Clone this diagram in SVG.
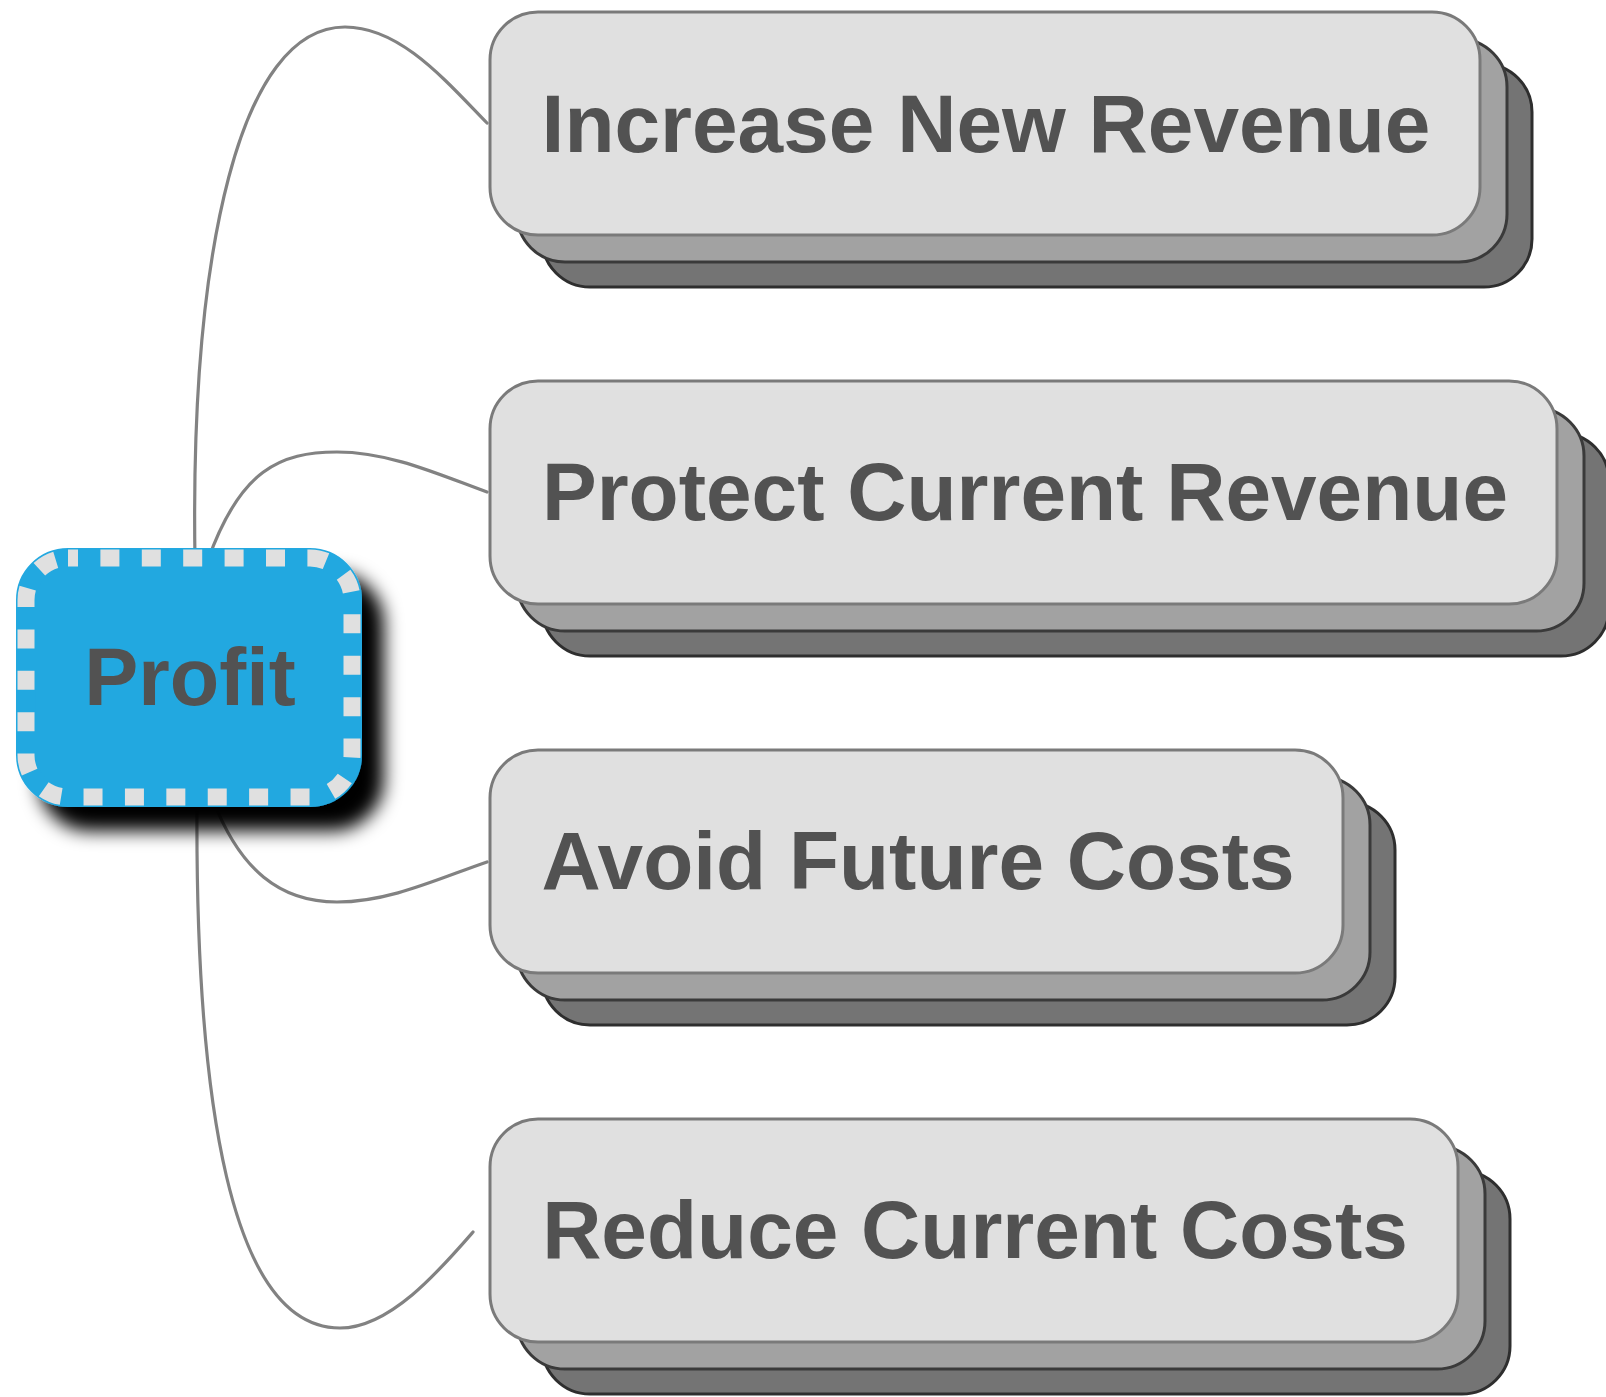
<svg xmlns="http://www.w3.org/2000/svg" width="1606" height="1397" viewBox="0 0 1606 1397">
<defs>
<filter id="shadow" x="-20%" y="-20%" width="160%" height="160%">
<feGaussianBlur in="SourceAlpha" stdDeviation="9"/>
<feOffset dx="22" dy="24" result="b"/>
<feFlood flood-color="#000" flood-opacity="1"/>
<feComposite in2="b" operator="in"/>
<feMerge><feMergeNode/><feMergeNode in="SourceGraphic"/></feMerge>
</filter>
<style>
.conn{fill:none;stroke:#828282;stroke-width:3.2;stroke-linecap:round}
.l3{fill:#747474;stroke:#2e2e2e;stroke-width:3}
.l2{fill:#a2a2a2;stroke:#3a3a3a;stroke-width:3}
.l1{fill:#e0e0e0;stroke:#7a7a7a;stroke-width:3}
.lbl{font-family:"Liberation Sans",Arial,Helvetica,sans-serif;font-weight:bold;font-size:82px;fill:#525252;text-anchor:middle}
</style>
</defs>
<rect width="1606" height="1397" fill="#ffffff"/>
<g id="connectors">
<path class="conn" d="M195,560 C190,250 240,27 345,27 C400,27 445,80 487,123"/>
<path class="conn" d="M208,560 C240,470 280,452 337,452 C390,452 440,475 487,492"/>
<path class="conn" d="M213,800 C240,870 280,902 337,902 C390,902 440,878 487,862"/>
<path class="conn" d="M197,800 C195,1100 230,1328 340,1328 C390,1328 440,1270 473,1232"/>
</g>
<g id="node-increase-new-revenue">
<rect class="l3" x="542" y="64" width="990" height="223" rx="48"/>
<rect class="l2" x="517" y="39" width="990" height="223" rx="48"/>
<rect class="l1" x="490" y="12" width="990" height="223" rx="48"/>
<text class="lbl" x="986" y="152">Increase New Revenue</text>
</g>
<g id="node-protect-current-revenue">
<rect class="l3" x="542" y="433" width="1067" height="223" rx="48"/>
<rect class="l2" x="517" y="408" width="1067" height="223" rx="48"/>
<rect class="l1" x="490" y="381" width="1067" height="223" rx="48"/>
<text class="lbl" x="1025" y="520">Protect Current Revenue</text>
</g>
<g id="node-avoid-future-costs">
<rect class="l3" x="542" y="802" width="853" height="223" rx="48"/>
<rect class="l2" x="517" y="777" width="853" height="223" rx="48"/>
<rect class="l1" x="490" y="750" width="853" height="223" rx="48"/>
<text class="lbl" x="918" y="889">Avoid Future Costs</text>
</g>
<g id="node-reduce-current-costs">
<rect class="l3" x="542" y="1171" width="968" height="223" rx="48"/>
<rect class="l2" x="517" y="1146" width="968" height="223" rx="48"/>
<rect class="l1" x="490" y="1119" width="968" height="223" rx="48"/>
<text class="lbl" x="975" y="1258">Reduce Current Costs</text>
</g>
<g id="node-profit">
<rect x="26" y="558" width="326" height="239" rx="42" fill="#22a8e0" stroke="#22a8e0" stroke-width="20" filter="url(#shadow)"/>
<rect x="26" y="558" width="326" height="239" rx="42" fill="none" stroke="#e0e0e0" stroke-width="17" stroke-dasharray="19 22.4" stroke-dashoffset="9"/>
<text x="190" y="705" font-family="Liberation Sans, Arial, Helvetica, sans-serif" font-weight="bold" font-size="81" fill="#525252" text-anchor="middle">Profit</text>
</g>
</svg>
